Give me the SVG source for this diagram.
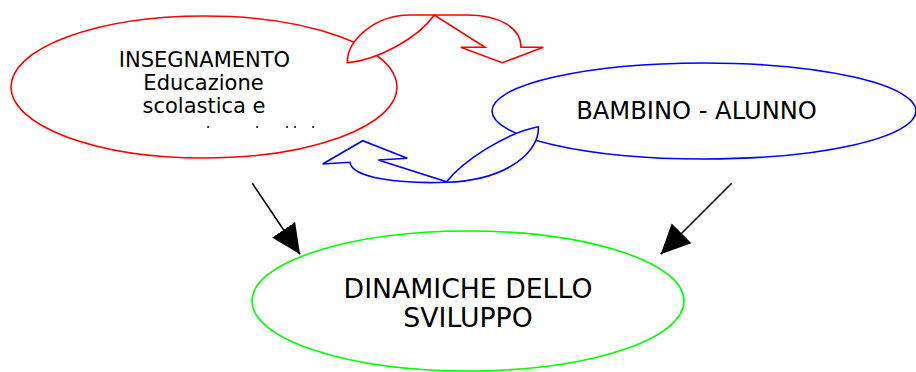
<svg xmlns="http://www.w3.org/2000/svg" width="916" height="372" viewBox="0 0 916 372">
<style>
  .lbl { font-family: "DejaVu Sans", "Liberation Sans", sans-serif; fill: #000; text-anchor: middle; }
  .node { fill: #fff; stroke-width: 1.6; }
  .loop { fill: #fff; stroke-width: 1.6; stroke-linejoin: miter; }
  .edge { stroke: #000; stroke-width: 1.6; fill: none; }
</style>
<defs>
  <marker id="arrow" markerUnits="userSpaceOnUse" markerWidth="30" markerHeight="30" viewBox="0 -14 28 28" refX="27.5" refY="0" orient="auto">
    <path d="M0,-13 L27.5,0 L0,13 Z" fill="#000"/>
  </marker>
</defs>
<rect width="916" height="372" fill="#fff"/>

<g id="node-insegnamento">
  <ellipse class="node" cx="204" cy="87" rx="193" ry="71" stroke="#ff0000"/>
  <text class="lbl" font-size="21" x="204.5" y="66.7">INSEGNAMENTO</text>
  <text class="lbl" font-size="21" x="203.5" y="90">Educazione</text>
  <text class="lbl" font-size="21" x="204" y="113.3">scolastica e</text>
  <g fill="#222">
    <rect x="207.3" y="126" width="1.6" height="2"/>
    <rect x="256.3" y="126" width="1.6" height="2"/>
    <rect x="286.3" y="126" width="1.6" height="2"/>
    <rect x="294.3" y="126" width="1.6" height="2"/>
    <rect x="312.3" y="126" width="1.6" height="2"/>
  </g>
</g>

<g id="node-bambino">
  <ellipse class="node" cx="704" cy="111" rx="212" ry="48" stroke="#0000ff"/>
  <text class="lbl" font-size="24.2" x="696.5" y="119.3">BAMBINO - ALUNNO</text>
</g>

<g id="node-dinamiche">
  <ellipse class="node" cx="468" cy="301" rx="216" ry="70" stroke="#00ff00"/>
  <text class="lbl" font-size="26.7" x="468" y="297.5">DINAMICHE DELLO</text>
  <text class="lbl" font-size="26.7" x="468" y="327">SVILUPPO</text>
</g>

<g id="connectors">
  <path class="loop" stroke="#ff0000" d="M347.3,62.7 C347,40 375,15 410,15 L466.7,15 C500,15 521,28 521,47.3 L543.3,47.3 L502.3,62.7 L460.7,47.3 L485,47.3 L434.3,15 C418,38 378,60 347.3,62.7 Z"/>
  <path class="loop" stroke="#0000ff" d="M538.3,126.7 C540,150 510,180 446.7,182.3 C400,184 352,178 350,162.3 L322.7,164 L362.7,140.7 L407.3,158.3 L378.3,160 L446.7,181.7 C462,162 505,133 538.3,126.7 Z"/>
  <line class="edge" x1="252.3" y1="183.3" x2="300" y2="254.3" marker-end="url(#arrow)"/>
  <line class="edge" x1="731.7" y1="183.3" x2="660.7" y2="254.3" marker-end="url(#arrow)"/>
</g>
</svg>
